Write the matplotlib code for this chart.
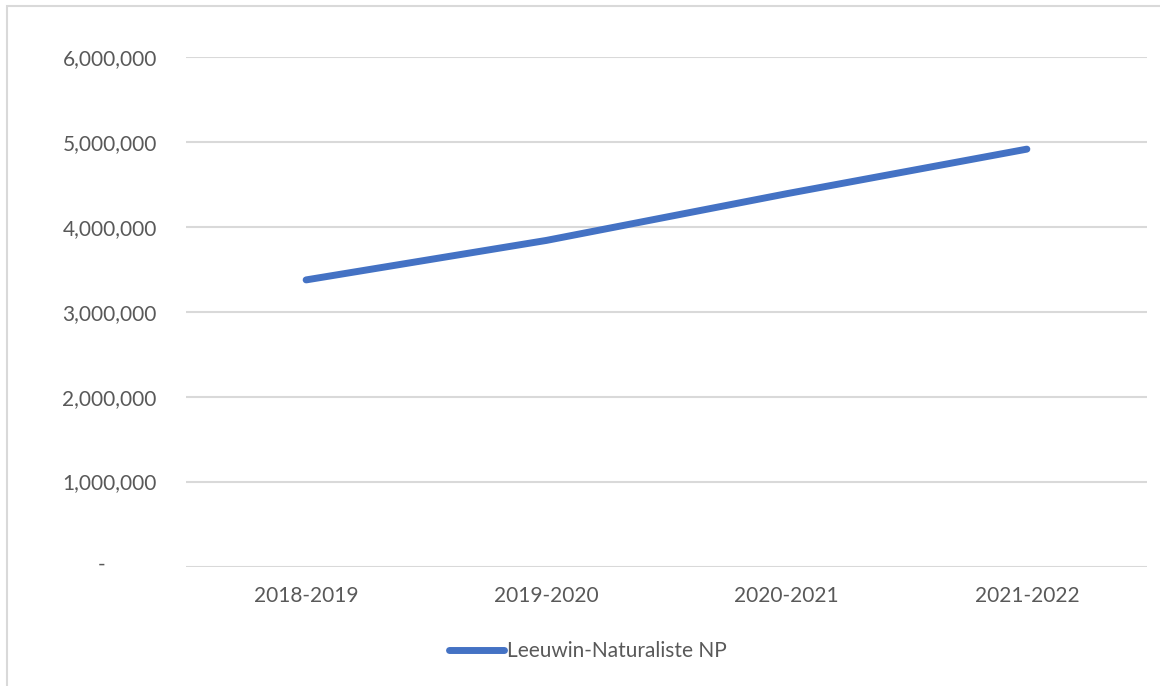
import matplotlib.pyplot as plt
from matplotlib.ticker import FuncFormatter
from matplotlib.patches import Rectangle

# Visitor numbers per financial year
years = ['2018-2019', '2019-2020', '2020-2021', '2021-2022']
visits = [3375000, 3840000, 4390000, 4915000]
series_name = 'Leeuwin-Naturaliste NP'

plt.rcParams['font.family'] = ['Lato', 'DejaVu Sans']
text_color = '#595959'

fig = plt.figure(figsize=(11.6, 6.86), dpi=100)
ax = fig.add_axes([186 / 1160, 1 - 566.5 / 686, (1147 - 186) / 1160, (566.5 - 57) / 686])

# chart frame (left and top edges)
fig.patches.append(Rectangle((7 / 1160, -0.1), 1.2, 1 - 6 / 686 + 0.1, transform=fig.transFigure,
                             fill=False, edgecolor='#D9D9D9', linewidth=1.5))

x = range(len(years))
ax.plot(x, visits, color='#4472C4', linewidth=5, solid_capstyle='round',
        solid_joinstyle='round', label=series_name)

ax.set_xlim(-0.5, len(years) - 0.5)
ax.set_ylim(0, 6000000)
ax.set_yticks(range(0, 6000001, 1000000))
ax.yaxis.set_major_formatter(FuncFormatter(lambda v, p: '' if v == 0 else f'{int(v):,}'))
ax.set_xticks(list(x))
ax.set_xticklabels(years)

# accounting-style dash for zero
ax.annotate('-', xy=(0, 0), xycoords=('axes fraction', 'data'), xytext=(-60.5, 1),
            textcoords='offset points', ha='center', va='center', fontsize=15, color=text_color)

ax.grid(axis='y', color='#D9D9D9', linewidth=1.5)
ax.set_axisbelow(True)
for s in ax.spines.values():
    s.set_visible(False)
ax.tick_params(length=0, labelsize=15, labelcolor=text_color)
ax.tick_params(axis='y', pad=21)
ax.tick_params(axis='x', pad=14)

fig.legend(loc='center', bbox_to_anchor=(588 / 1160, 1 - 651 / 686), frameon=False,
           fontsize=15, labelcolor=text_color, handlelength=2.6, handletextpad=0.15)

fig.savefig('out.png', dpi=100)
